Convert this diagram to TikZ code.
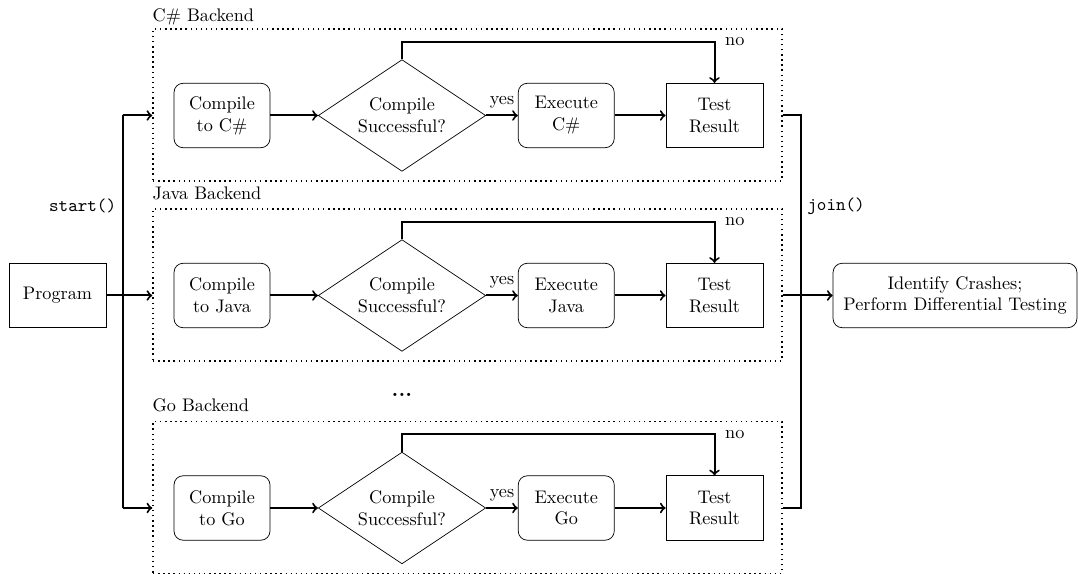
\documentclass[tikz,border=0pt]{standalone}
\usetikzlibrary{shapes.geometric}
\begin{document}
\begin{tikzpicture}[x=0.5495pt,y=-0.5495pt,
  proc/.style={draw, rounded corners=5pt, align=center, minimum width=52.75pt, minimum height=35.4pt, inner sep=2pt},
  decision/.style={draw, diamond, aspect=1.5, align=center, minimum width=92pt, minimum height=61.4pt, inner sep=0pt},
  result/.style={draw, rectangle, align=center, minimum width=53.3pt, minimum height=35.4pt, inner sep=2pt},
  backend/.style={draw, thick, dotted, rectangle, inner sep=0pt, minimum width=345.6pt, minimum height=83.4pt},
  tag/.style={anchor=base west, inner sep=0pt},
  flow/.style={line width=1.1pt, ->},
  link/.style={line width=1.1pt},
]
\useasboundingbox (0,0) rectangle (1078,574);

% one backend pipeline per row
\foreach \n/\y/\lang/\title/\lift in {cs/115.5/C\#/C\# Backend/6.3, java/295.5/Java/Java Backend/8.5, go/508/Go/Go Backend/9.7}{
  \node[backend] (box-\n) at (467.5,\y-10.6) {};
  \node[tag] (title-\n) at ([yshift=\lift*0.5495pt]box-\n.north west) {\title};
  \node[proc] (comp-\n) at (222,\y) {Compile\\to \lang};
  \node[decision] (dec-\n) at (402,\y) {Compile\\Successful?};
  \node[proc] (exec-\n) at (566.25,\y) {Execute\\\lang};
  \node[result] (test-\n) at (714.5,\y) {Test\\Result};
  \coordinate (split-\n) at (122.5,\y);
  \coordinate (merge-\n) at (801,\y);
  \draw[flow] (comp-\n) -- (dec-\n);
  \draw[flow] (dec-\n) -- node[above] (yes-\n) {yes} (exec-\n);
  \draw[flow] (exec-\n) -- (test-\n);
  \draw[flow] (dec-\n.north) -- ++(0,-17.3) -| node[pos=0.5, right, xshift=2pt] (no-\n) {no} (test-\n.north);
}

\node[draw, rectangle, minimum width=53.3pt, minimum height=35.4pt] (prog) at (57.5,295.5) {Program};
\node[draw, rounded corners=5pt, align=center, minimum width=134pt, minimum height=35.4pt, inner sep=2pt] (ident) at (955,295.5) {Identify Crashes;\\Perform Differential Testing};

% fork into the backends
\draw[link] (split-cs) -- (split-go);
\draw[flow] (prog) -- (box-java.west |- prog);
\draw[flow] (split-cs) -- (box-cs.west |- split-cs);
\draw[flow] (split-go) -- (box-go.west |- split-go);
\node[anchor=east] (start-lbl) at (122.5,206) {\texttt{start()}};

% join the results
\draw[link] (box-cs.east |- merge-cs) -- (merge-cs) -- (merge-go) -- (box-go.east |- merge-go);
\draw[flow] (box-java.east |- ident) -- (ident);
\node[anchor=west] (join-lbl) at (801,206) {\texttt{join()}};

\node[anchor=base] (more) at (402,397) {\large\bfseries ...};
\end{tikzpicture}
\end{document}
